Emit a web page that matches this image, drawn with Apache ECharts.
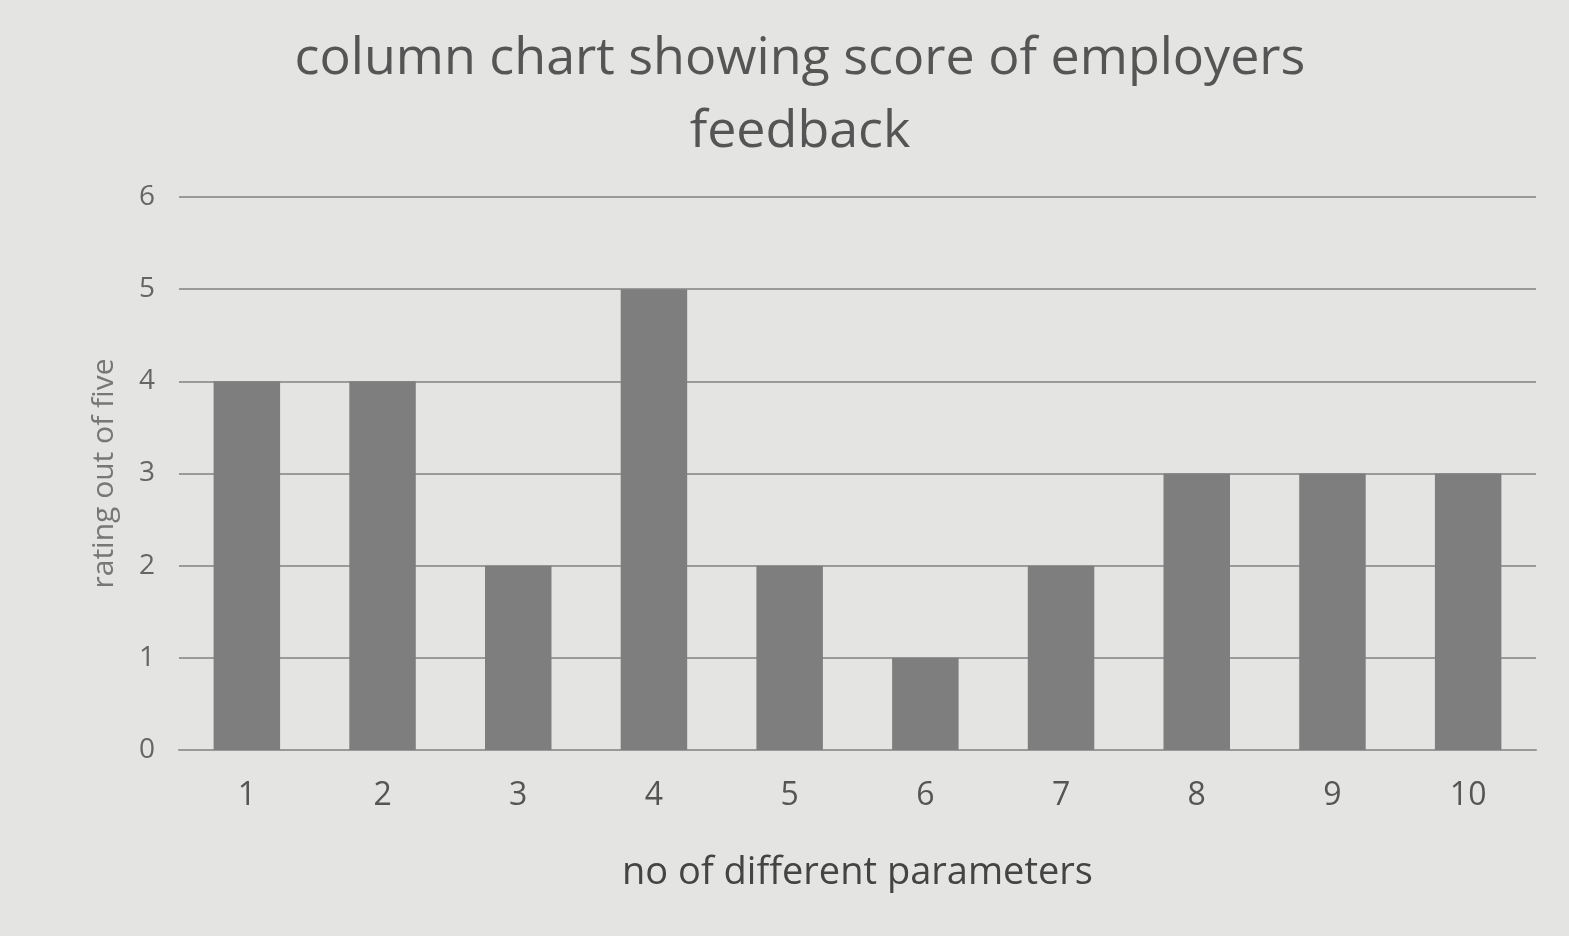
<!DOCTYPE html>
<html><head><meta charset="utf-8">
<script src="https://cdn.jsdelivr.net/npm/echarts@6/dist/echarts.min.js"></script>
<style>html,body{margin:0;padding:0;background:#e4e4e2;}#c{width:1569px;height:936px;}</style>
</head><body><div id="c"></div>
<script>
const categories = ['1','2','3','4','5','6','7','8','9','10'];
const scores = [4,4,2,5,2,1,2,3,3,3];
const titleText = 'column chart showing score of employers\nfeedback';
const xName = 'no of different parameters';
const yName = 'rating out of five';

const chart = echarts.init(document.getElementById('c'));
chart.setOption({
  backgroundColor: '#e4e4e2',
  title: {
    text: titleText, left: 795, top: 18, textAlign: 'center',
    textStyle: {fontFamily: 'Open Sans', fontSize: 52, fontWeight: 'normal', color: '#555', lineHeight: 73}
  },
  grid: {left: 179, right: 33, top: 197, bottom: 186},
  xAxis: {
    type: 'category', data: categories,
    name: xName, nameLocation: 'middle', nameGap: 104,
    nameTextStyle: {fontFamily: 'Open Sans', fontSize: 38, color: '#444'},
    axisLine: {lineStyle: {color: '#999', width: 2}},
    axisTick: {show: false},
    axisLabel: {fontFamily: 'Open Sans', fontSize: 32, color: '#555', margin: 30}
  },
  yAxis: {
    type: 'value', min: 0, max: 6, interval: 1,
    name: yName, nameLocation: 'middle', nameGap: 60,
    nameTextStyle: {fontFamily: 'Open Sans', fontSize: 30, color: '#777'},
    axisLine: {show: false}, axisTick: {show: false},
    splitLine: {lineStyle: {color: '#9a9a9a', width: 2}},
    axisLabel: {fontFamily: 'Open Sans', fontSize: 28, color: '#666', margin: 24}
  },
  series: [{
    type: 'bar', data: scores, barWidth: '49%',
    itemStyle: {color: '#7e7e7e'}
  }]
});
</script></body></html>
